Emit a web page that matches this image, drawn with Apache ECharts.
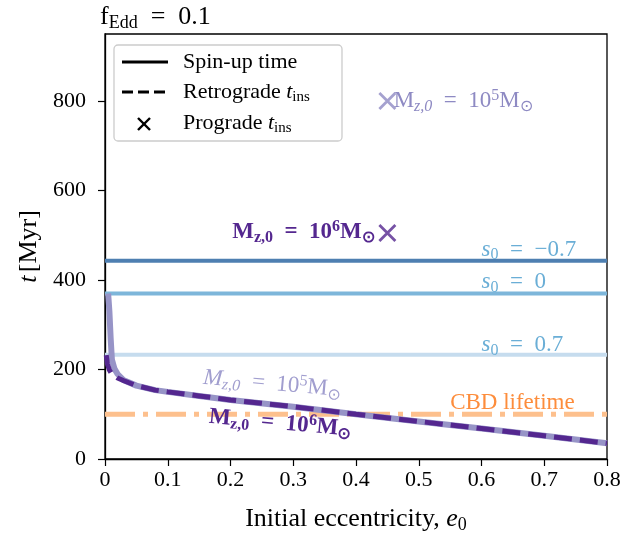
<!DOCTYPE html>
<html><head><meta charset="utf-8">
<script src="https://cdn.jsdelivr.net/npm/echarts@6/dist/echarts.min.js"></script>
<style>html,body{margin:0;padding:0;background:#fff}#c{width:644px;height:533px}</style>
</head><body><div id="c"></div>
<script>
// ---- data ----
const eLight = [0.005, 0.007, 0.009, 0.011, 0.015, 0.02, 0.03, 0.05, 0.08, 0.1, 0.15, 0.2, 0.3, 0.4, 0.5, 0.6, 0.7, 0.8];
const tLight = [370, 330, 270, 222, 202, 190, 176, 164, 154, 150, 141, 132, 117, 100, 84, 68, 52, 35];
const eDark = [0.002, 0.004, 0.007, 0.01, 0.015, 0.02, 0.03, 0.05, 0.08, 0.1, 0.15, 0.2, 0.3, 0.4, 0.5, 0.6, 0.7, 0.8];
const tDark = [232, 212, 199, 192, 186, 181, 175, 164, 154, 150, 141, 132, 117, 100, 84, 68, 52, 35];
const spinLabels = ['−0.7', '0', '0.7'];
const spinValues = [443, 370, 233];
const cbdLifetime = 100;
const progradeE = [0.45, 0.45];
const progradeT = [800, 505];
const xTicks = [0, 0.1, 0.2, 0.3, 0.4, 0.5, 0.6, 0.7, 0.8];
const yTicks = [0, 200, 400, 600, 800];

// ---- styles ----
const FONT = 'Liberation Serif';
const FS = 22;      // tick / legend text
const FA = 23;      // annotations
const FN = 26;      // axis names, title
const EQ = '\u2002=\u2002';
const spinColors = ['#4e7fb1', '#7db6da', '#c6dcee'];
const lightPurple = '#9794c7';
const darkPurple = '#54278f';
const cbdColor = '#fdc08d';

const chart = echarts.init(document.getElementById('c'), null, {renderer: 'canvas'});
const XMIN = 0, XMAX = 0.8, YMIN = 0, YMAX = 950;

const series = [];
spinValues.forEach((v, i) => {
  series.push({type: 'line', data: [[XMIN, v], [XMAX, v]], symbol: 'none', silent: true,
    lineStyle: {color: spinColors[i], width: 4}, z: 2});
});
series.push({type: 'line', data: [[XMIN, cbdLifetime], [XMAX, cbdLifetime]], symbol: 'none',
  lineStyle: {color: cbdColor, width: 5, type: [30, 8, 5, 8]}, z: 3});
series.push({type: 'line', data: eLight.map((e, i) => [e, tLight[i]]), symbol: 'none',
  lineStyle: {color: lightPurple, width: 6}, z: 4});
series.push({type: 'line', data: eDark.map((e, i) => [e, tDark[i]]), symbol: 'none',
  lineStyle: {color: darkPurple, width: 5, type: [18, 8]}, z: 5});
series.push({type: 'scatter', data: [[progradeE[0], progradeT[0]]], symbol: 'path://M0,0L10,10M10,0L0,10',
  symbolSize: 16, itemStyle: {color: 'none', borderColor: '#8e8ac3', borderWidth: 2.8}, z: 6});
series.push({type: 'scatter', data: [[progradeE[1], progradeT[1]]], symbol: 'path://M0,0L10,10M10,0L0,10',
  symbolSize: 16, itemStyle: {color: 'none', borderColor: darkPurple, borderWidth: 2.8}, z: 6});

const rich = (color, size, bold) => {
  const w = bold ? 'bold' : 'normal';
  const ss = Math.round(size * 0.7);
  return {
    n: {fontFamily: FONT, fontSize: size, color, fill: color, fontWeight: w, lineHeight: size + 4},
    i: {fontFamily: FONT, fontSize: size, color, fill: color, fontStyle: 'italic', fontWeight: w, lineHeight: size + 4},
    sub: {fontFamily: FONT, fontSize: ss, color, fill: color, fontWeight: w, verticalAlign: 'bottom', lineHeight: ss},
    subi: {fontFamily: FONT, fontSize: ss, color, fill: color, fontStyle: 'italic', fontWeight: w, verticalAlign: 'bottom', lineHeight: ss},
    sup: {fontFamily: FONT, fontSize: ss, color, fill: color, fontWeight: w, verticalAlign: 'top', lineHeight: ss - 2}
  };
};

chart.setOption({
  animation: false,
  backgroundColor: '#fff',
  grid: {left: 105, right: 37, top: 34, bottom: 74, containLabel: false, outerBoundsMode: 'none',
    show: true, borderColor: '#000', borderWidth: 1.3, backgroundColor: 'transparent'},
  xAxis: {type: 'value', min: XMIN, max: XMAX, interval: 0.1,
    axisLine: {show: true, lineStyle: {color: '#000', width: 1.3}},
    axisTick: {show: true, inside: false, length: 7, lineStyle: {color: '#000', width: 1.2}, customValues: xTicks},
    axisLabel: {customValues: xTicks, color: '#000', fontFamily: FONT, fontSize: FS, margin: 10,
      formatter: v => v === 0 ? '0' : v.toFixed(1)},
    splitLine: {show: false},
    name: '{n|Initial eccentricity, }{i|e}{sub|0}', nameLocation: 'middle', nameGap: 45,
    nameTextStyle: {rich: rich('#000', FN, false)}},
  yAxis: {type: 'value', min: YMIN, max: YMAX, interval: 200,
    axisLine: {show: true, lineStyle: {color: '#000', width: 1.3}},
    axisTick: {show: true, inside: false, length: 7, lineStyle: {color: '#000', width: 1.2}, customValues: yTicks},
    axisLabel: {customValues: yTicks, color: '#000', fontFamily: FONT, fontSize: FS, margin: 19},
    splitLine: {show: false},
    name: '{i|t} {n|[Myr]}', nameLocation: 'middle', nameGap: 30, nameRotate: 90,
    nameTextStyle: {rich: rich('#000', FN, false)}},
  series
});

// ---- annotations (placed in data coordinates) ----
const annotations = [
  {at: [0.46, 800], text: '{n|M}{subi|z,0}{n|' + EQ + '10}{sup|5}{n|M}{sub|⊙}', color: '#8e8ac3', bold: false, align: 'left', rot: 0},
  {at: [0.43, 507], text: '{n|M}{sub|z,0}{n|' + EQ + '10}{sup|6}{n|M}{sub|⊙}', color: darkPurple, bold: true, align: 'right', rot: 0},
  {at: [0.6, 468], text: '{i|s}{sub|0}{n|' + EQ + '−0.7}', color: '#6aaed6', bold: false, align: 'left', rot: 0},
  {at: [0.6, 396], text: '{i|s}{sub|0}{n|' + EQ + '0}', color: '#6aaed6', bold: false, align: 'left', rot: 0},
  {at: [0.6, 255], text: '{i|s}{sub|0}{n|' + EQ + '0.7}', color: '#6aaed6', bold: false, align: 'left', rot: 0},
  {at: [0.55, 125], text: '{n|CBD lifetime}', color: '#fd8d3c', bold: false, align: 'left', rot: 0},
  {at: [0.266, 168], text: '{i|M}{subi|z,0}{n|' + EQ + '10}{sup|5}{n|M}{sub|⊙}', color: '#a19ecf', bold: false, align: 'center', rot: -0.09},
  {at: [0.279, 80], text: '{n|M}{sub|z,0}{n|' + EQ + '10}{sup|6}{n|M}{sub|⊙}', color: darkPurple, bold: true, align: 'center', rot: -0.09}
];

const graphics = [];
annotations.forEach(a => {
  const p = chart.convertToPixel({gridIndex: 0}, a.at);
  graphics.push({type: 'text', x: p[0], y: p[1], rotation: a.rot, z: 10,
    style: {text: a.text, rich: rich(a.color, FA, a.bold), align: a.align, verticalAlign: 'middle'}});
});

// title
graphics.push({type: 'text', x: 100, y: 17, z: 10,
  style: {text: '{n|f}{sub|Edd}{n|' + EQ + '0.1}', rich: rich('#000', FN, false), verticalAlign: 'middle'}});

// legend box
const lg = {x: 114, y: 45, w: 228, h: 96};
graphics.push({type: 'rect', shape: {x: lg.x, y: lg.y, width: lg.w, height: lg.h, r: 4},
  style: {fill: 'rgba(255,255,255,0.8)', stroke: '#cccccc', lineWidth: 1.3}, z: 20});
graphics.push({type: 'line', shape: {x1: 122, y1: 62, x2: 168, y2: 62}, style: {stroke: '#000', lineWidth: 3}, z: 21});
graphics.push({type: 'line', shape: {x1: 122, y1: 92, x2: 168, y2: 92}, style: {stroke: '#000', lineWidth: 3, lineDash: [11, 5]}, z: 21});
graphics.push({type: 'polyline', shape: {points: [[138, 118], [150, 130]]}, style: {stroke: '#000', lineWidth: 2.4, fill: null}, z: 21});
graphics.push({type: 'polyline', shape: {points: [[150, 118], [138, 130]]}, style: {stroke: '#000', lineWidth: 2.4, fill: null}, z: 21});
const legTexts = [['{n|Spin-up time}', 62], ['{n|Retrograde }{i|t}{sub|ins}', 92], ['{n|Prograde }{i|t}{sub|ins}', 123]];
legTexts.forEach(([t, y]) => graphics.push({type: 'text', x: 183, y: y, z: 21,
  style: {text: t, rich: rich('#000', FS, false), verticalAlign: 'middle'}}));

chart.setOption({graphic: graphics});
</script></body></html>
